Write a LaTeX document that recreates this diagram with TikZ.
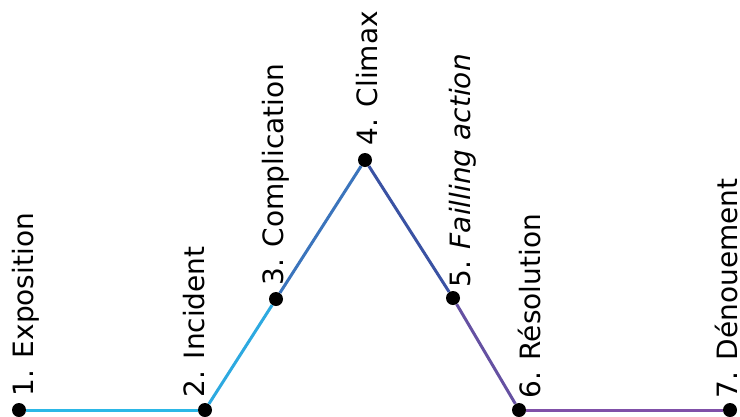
\documentclass[tikz,border=0pt]{standalone}
\usepackage{fontspec}
\setmainfont{DejaVu Sans}
\begin{document}
\begin{tikzpicture}[x=1pt,y=-1pt,
  dot/.style={circle,fill=black,inner sep=0pt,minimum size=14pt},
  lbl/.style={rotate=90,anchor=base west,inner sep=0pt,font=\fontsize{28}{30}\selectfont},
  seg/.style={line width=3pt}]
\useasboundingbox (0,0) rectangle (740,416);
\clip (0,0) rectangle (740,416);
\definecolor{c1}{HTML}{2BB7E6}
\definecolor{c2}{HTML}{2DA9E0}
\definecolor{c3}{HTML}{3B74BC}
\definecolor{c4}{HTML}{3A52A3}
\definecolor{c5}{HTML}{6551A2}
\definecolor{c6}{HTML}{8050A8}
\node[dot] (p1) at (19,410) {};
\node[dot] (p2) at (205,410) {};
\node[dot] (p3) at (276,299) {};
\node[dot] (p4) at (365,160) {};
\node[dot] (p5) at (453,298) {};
\node[dot] (p6) at (519,410) {};
\node[dot] (p7) at (730,410) {};
\draw[seg,c1] (p1) -- (p2);
\draw[seg,c2] (p2) -- (p3);
\draw[seg,c3] (p3) -- (p4);
\draw[seg,c4] (p4) -- (p5);
\draw[seg,c5] (p5) -- (p6);
\draw[seg,c6] (p6) -- (p7);
\node[lbl] (l1) at (33,397) {1. Exposition};
\node[lbl] (l2) at (204,398) {2. Incident};
\node[lbl] (l3) at (283,286) {3. Complication};
\node[lbl] (l4) at (377,146) {4. Climax};
\node[lbl] (l5) at (470,288) {5. \textit{Failling action}};
\node[lbl] (l6) at (540,399) {6. Résolution};
\node[lbl] (l7) at (737,399) {7. Dénouement};
\end{tikzpicture}
\end{document}
